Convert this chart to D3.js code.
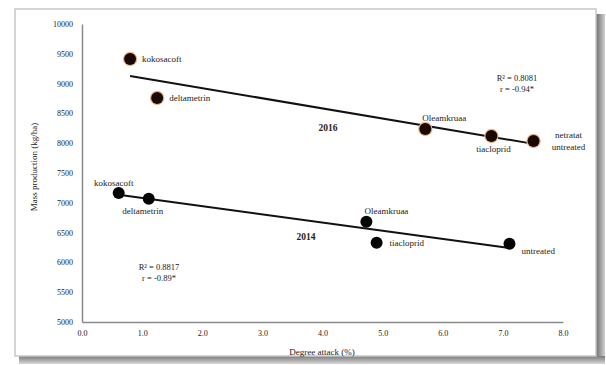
<!DOCTYPE html>
<html>
<head>
<meta charset="utf-8">
<script src="https://cdn.jsdelivr.net/npm/d3@7/dist/d3.min.js"></script>
<style>
  body { margin: 0; background: #fff; }
  svg { display: block; }
  text { font-family: "Liberation Serif", "DejaVu Serif", serif; fill: #222; }
</style>
</head>
<body>
<svg id="chart" width="606" height="365"></svg>
<script>
// Treatments and measurements for the two seasons
const treatments2016 = ["kokosacoft", "deltametrin", "Oleamkruaa", "tiacloprid", "netratat|untreated"];
const attack2016 = [0.80, 1.25, 5.71, 6.81, 7.51];
const yield2016 = [9413, 8758, 8238, 8121, 8037];

const treatments2014 = ["kokosacoft", "deltametrin", "Oleamkruaa", "tiacloprid", "untreated"];
const attack2014 = [0.61, 1.11, 4.73, 4.90, 7.11];
const yield2014 = [7164, 7067, 6683, 6330, 6313];

const xTicks = [0, 1, 2, 3, 4, 5, 6, 7, 8];
const yTicks = [5000, 5500, 6000, 6500, 7000, 7500, 8000, 8500, 9000, 9500, 10000];

const stats2016 = ["R\u00B2 = 0.8081", "r = -0.94*"];
const stats2014 = ["R\u00B2 = 0.8817", "r = -0.89*"];
const yearLabels = ["2016", "2014"];

const xTitle = "Degree attack (%)";
const yTitle = "Mass production (kg/ha)";

// Label placement around each marker: [dx, dy, anchor]
const labelPos2016 = [[12, 3, "start"], [12, 3, "start"], [-3, -8, "start"], [2, 16, "middle"], [35, -3, "middle"]];
const labelPos2014 = [[-5, -7, "middle"], [-6, 15, "middle"], [-2, -8, "start"], [13, 3, "start"], [12, 10, "start"]];

const svg = d3.select("#chart");

// frame with drop shadow
const defs = svg.append("defs");
const gR = defs.append("linearGradient").attr("id", "shR").attr("x1", 0).attr("x2", 1);
gR.append("stop").attr("offset", 0).attr("stop-color", "#6e6e6e");
gR.append("stop").attr("offset", 1).attr("stop-color", "#cfcfcf");
const gB = defs.append("linearGradient").attr("id", "shB").attr("x1", 0).attr("x2", 0).attr("y1", 0).attr("y2", 1);
gB.append("stop").attr("offset", 0).attr("stop-color", "#7a7a7a");
gB.append("stop").attr("offset", 1).attr("stop-color", "#d8d8d8");
const glow = defs.append("filter").attr("id", "halo").attr("x", "-50%").attr("y", "-50%").attr("width", "200%").attr("height", "200%");
glow.append("feGaussianBlur").attr("stdDeviation", 0.6);

svg.append("rect").attr("x", 596).attr("y", 14).attr("width", 9).attr("height", 349).attr("fill", "url(#shR)");
svg.append("rect").attr("x", 19).attr("y", 356).attr("width", 586).attr("height", 8).attr("fill", "url(#shB)");
svg.append("rect").attr("x", 15).attr("y", 9).attr("width", 581).attr("height", 347)
  .attr("fill", "#fff").attr("stroke", "#c8c8c8").attr("stroke-width", 1.5);

const x = d3.scaleLinear().domain([0, 8]).range([82, 563]);
const y = d3.scaleLinear().domain([5000, 10000]).range([322, 24]);

// axes
const xAxis = svg.append("g").attr("transform", `translate(0,${y(5000)})`)
  .call(d3.axisBottom(x).tickValues(xTicks).tickFormat(d3.format(".1f")).tickSize(0).tickPadding(8));
const yAxis = svg.append("g").attr("transform", `translate(${x(0)},0)`)
  .call(d3.axisLeft(y).tickValues(yTicks).tickFormat(d => d).tickSize(0).tickPadding(9));
[xAxis, yAxis].forEach(a => {
  a.select(".domain").attr("stroke", "#8a8a8a").attr("stroke-width", 1.5);
  a.selectAll("text").attr("font-size", 8).attr("font-family", "Liberation Serif").attr("fill", "#444");
});

svg.append("text").attr("x", 322).attr("y", 355).attr("text-anchor", "middle")
  .attr("font-size", 9).attr("fill", "#333").text(xTitle);
svg.append("text").attr("transform", "translate(37,167) rotate(-90)").attr("text-anchor", "middle")
  .attr("font-size", 9).attr("fill", "#333").text(yTitle);

// least-squares fit drawn over the range of attack values
function fit(xs, ys) {
  const mx = d3.mean(xs), my = d3.mean(ys);
  const sxy = d3.sum(xs, (v, i) => (v - mx) * (ys[i] - my));
  const sxx = d3.sum(xs, v => (v - mx) ** 2);
  const b = sxy / sxx;
  return v => my + b * (v - mx);
}

function series(names, xs, ys, pos, style) {
  const f = fit(xs, ys);
  const x0 = d3.min(xs), x1 = d3.max(xs);
  svg.append("line")
    .attr("x1", x(x0)).attr("y1", y(f(x0)))
    .attr("x2", x(x1)).attr("y2", y(f(x1)))
    .attr("stroke", "#111").attr("stroke-width", 2);

  const g = svg.append("g");
  if (style.halo) {
    g.selectAll("circle.halo").data(xs).join("circle").attr("class", "halo")
      .attr("cx", d => x(d)).attr("cy", (d, i) => y(ys[i])).attr("r", style.r + 1.2)
      .attr("fill", style.halo).attr("filter", "url(#halo)");
  }
  g.selectAll("circle.dot").data(xs).join("circle").attr("class", "dot")
    .attr("cx", d => x(d)).attr("cy", (d, i) => y(ys[i])).attr("r", style.r)
    .attr("fill", style.fill);

  names.forEach((n, i) => {
    const [dx, dy, anchor] = pos[i];
    const parts = n.split("|");
    const t = g.append("text")
      .attr("x", x(xs[i]) + dx).attr("y", y(ys[i]) + dy)
      .attr("text-anchor", anchor).attr("font-size", 9).attr("fill", "#333");
    parts.forEach((p, k) => {
      t.append("tspan").attr("x", x(xs[i]) + dx).attr("dy", k === 0 ? 0 : 12).text(p);
    });
  });
}

series(treatments2016, attack2016, yield2016, labelPos2016, { r: 6, fill: "#1a0803", halo: "#eab488" });
series(treatments2014, attack2014, yield2014, labelPos2014, { r: 6, fill: "#050505" });

// season labels
svg.append("text").attr("x", 328).attr("y", 131).attr("text-anchor", "middle")
  .attr("font-size", 9.5).attr("font-weight", "bold").attr("fill", "#333").text(yearLabels[0]);
svg.append("text").attr("x", 306).attr("y", 240).attr("text-anchor", "middle")
  .attr("font-size", 9.5).attr("font-weight", "bold").attr("fill", "#333").text(yearLabels[1]);

// fit statistics
function statsText(lines, cx, cy) {
  const t = svg.append("text").attr("text-anchor", "middle").attr("font-size", 8.5).attr("fill", "#333");
  lines.forEach((l, k) => t.append("tspan").attr("x", cx).attr("y", cy + k * 11).text(l));
}
statsText(stats2016, 517, 81);
statsText(stats2014, 159, 270);
</script>
</body>
</html>
